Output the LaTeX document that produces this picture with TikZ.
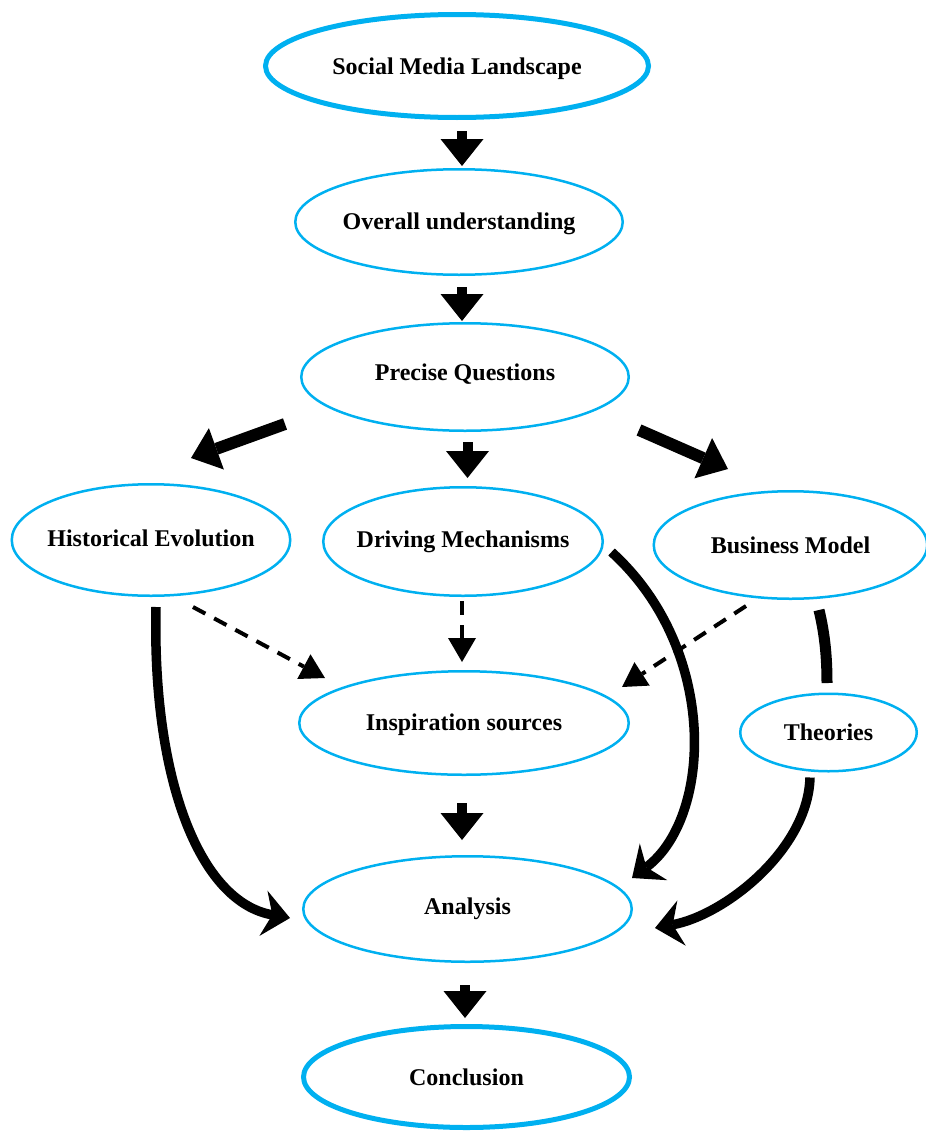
\documentclass[tikz,border=0pt]{standalone}
\usepackage{fontspec}
\setmainfont{Liberation Serif}
\usetikzlibrary{arrows.meta,shapes.geometric,calc}
\definecolor{cyanline}{RGB}{0,176,240}
% zero-width label box so the ellipse size is set only by its minimum size;
% the optional argument nudges the label up or down, keeping its box size
\newcommand\ellabel[2][0pt]{\makebox[0pt]{\raisebox{#1}[\height][\depth]{#2}}}

\begin{document}
\begin{tikzpicture}[x=1pt,y=-1pt,
  box/.style={ellipse, draw=cyanline, line width=2.5pt, inner sep=0pt,
    font=\fontsize{24}{26}\selectfont\bfseries},
  keybox/.style={box, line width=5pt},
  blk/.style={line width=10pt, -{Triangle[width=43pt,length=27pt,line width=0pt]}},
  slant/.style={line width=12pt, -{Triangle[width=44pt,length=27pt,line width=0pt]}},
  dasharrow/.style={line width=4pt, dash pattern=on 14pt off 10pt,
    -{Triangle[width=28pt,length=24pt,line width=0pt]}},
  curv/.style={line width=9.5pt, -{Stealth[width=46pt,length=27pt,inset=9pt,line width=0pt]}},
  link/.style={line width=11pt}
]
\useasboundingbox (0,0) rectangle (926,1135);

% stages of the study
\node[keybox, minimum width=383pt, minimum height=103pt] (smt) at (457,66) {\ellabel[-3pt]{Social Media Landscape}};
\node[box, minimum width=327.5pt, minimum height=105.5pt] (ou) at (459,222) {\ellabel[-2pt]{Overall understanding}};
\node[box, minimum width=327.5pt, minimum height=107.5pt] (pq) at (465,377) {\ellabel[3pt]{Precise Questions}};
\node[box, minimum width=278.5pt, minimum height=111.5pt] (hist) at (151,540) {\ellabel[1.5pt]{Historical Evolution}};
\node[box, minimum width=279.5pt, minimum height=108.5pt] (drv) at (463,541.5) {\ellabel{Driving Mechanisms}};
\node[box, minimum width=273.5pt, minimum height=107.5pt] (bm) at (790.5,545) {\ellabel{Business Model}};
\node[box, minimum width=329.5pt, minimum height=103.5pt] (insp) at (464,723) {\ellabel[-1.5pt]{Inspiration sources}};
\node[box, minimum width=176.5pt, minimum height=77.5pt] (th) at (828.5,732.5) {\ellabel{Theories}};
\node[box, minimum width=328.5pt, minimum height=105.5pt] (ana) at (467.5,909) {\ellabel{Analysis}};
\node[keybox, minimum width=326pt, minimum height=101pt] (conc) at (466.5,1077) {\ellabel{Conclusion}};

% main flow
\draw[blk] ([shift={(5,11)}]smt.south) -- ([shift={(3,-2)}]ou.north);
\draw[blk] ([shift={(3,11)}]ou.south) -- ([shift={(-3,-1)}]pq.north);
\draw[blk] ([shift={(2.5,10)}]pq.south) -- ([shift={(4.5,-8)}]drv.north);
\draw[blk] ([shift={(-2,27)}]insp.south) -- ([shift={(-5.5,-15)}]ana.north);
\draw[blk] ([shift={(-2.5,22)}]ana.south) -- ([shift={(-1.5,-6)}]conc.north);

% branches from the questions
\draw[slant] ([shift={(-15,47)}]pq.west) -- ([shift={(40,-25)}]hist.north);
\draw[slant] ([shift={(9,53)}]pq.east) -- ([shift={(-62.5,-21)}]bm.north);

% sources of inspiration
\draw[dasharrow] ([shift={(42,10)}]hist.south) -- ([shift={(-139,8)}]insp.north);
\draw[dasharrow] ([shift={(-1,4)}]drv.south) -- ([shift={(-2,-8)}]insp.north);
\draw[dasharrow] ([shift={(-44.5,6)}]bm.south) -- ([shift={(158,17)}]insp.north);

% business model backed by theories
\draw[link] ([shift={(28.5,10)}]bm.south) .. controls +(6,25) and +(0,-25) .. ([shift={(-1.5,-9.5)}]th.north);

% inputs to the analysis
\draw[curv] ([shift={(5,10)}]hist.south) .. controls +(-4,173) and +(-90,-16) .. ([shift={(-12,9)}]ana.west);
\draw[curv] ([shift={(7.5,10.5)}]drv.east) .. controls +(108,98) and +(80,-60) .. ([shift={(-1,-31)}]ana.east);
\draw[curv] ([shift={(-18.5,5)}]th.south) .. controls +(-2,72) and +(70,-13) .. ([shift={(22,19)}]ana.east);
\end{tikzpicture}
\end{document}
